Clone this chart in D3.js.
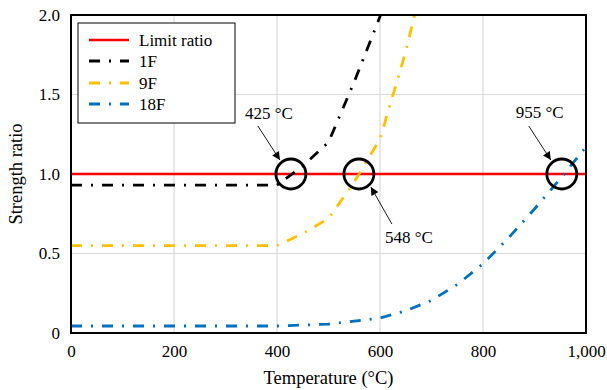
<!DOCTYPE html>
<html>
<head>
<meta charset="utf-8">
<script src="https://cdn.jsdelivr.net/npm/d3@7"></script>
<style>
  html, body { margin: 0; padding: 0; background: #fff; }
  svg { display: block; }
  svg text { font-family: 'Liberation Serif', 'Times New Roman', 'DejaVu Serif', serif; }
</style>
</head>
<body>
<svg id="chart" width="607" height="390"></svg>
<script>
// ---- data ----
const temps1F  = [0, 100, 200, 300, 400, 450, 500, 550, 600, 650];
const ratio1F  = [0.93, 0.93, 0.93, 0.93, 0.93, 1.05, 1.20, 1.58, 1.99, 2.6];
const temps9F  = [0, 100, 200, 300, 400, 450, 500, 550, 600, 650, 700];
const ratio9F  = [0.55, 0.55, 0.55, 0.55, 0.55, 0.625, 0.72, 0.95, 1.22, 1.77, 2.44];
const temps18F = [0, 100, 200, 300, 400, 500, 600, 650, 700, 750, 800, 850, 900, 950, 1000];
const ratio18F = [0.044, 0.044, 0.044, 0.044, 0.044, 0.056, 0.094, 0.14, 0.205, 0.305, 0.435, 0.60, 0.78, 0.97, 1.17];
const limitTemps = [0, 1000];
const limitRatio = [1.0, 1.0];
const xTicks = [0, 200, 400, 600, 800, 1000];
const xTickLabels = ["0", "200", "400", "600", "800", "1,000"];
const yTicks = [0, 0.5, 1.0, 1.5, 2.0];
const yTickLabels = ["0", "0.5", "1.0", "1.5", "2.0"];
const seriesNames = ["Limit ratio", "1F", "9F", "18F"];
const seriesColors = ["#FF0000", "#000000", "#FFC000", "#0070C0"];
const markTemps = [427, 559, 953];
const markLabels = ["425 °C", "548 °C", "955 °C"];

// ---- layout ----
const svg = d3.select("#chart");
const L = 71, R = 586, T = 15, B = 333;
const x = d3.scaleLinear().domain([0, 1000]).range([L, R]);
const y = d3.scaleLinear().domain([0, 2]).range([B, T]);
const FONT = 17;
const TITLE_FONT = 18.5;
const FAM = "'Liberation Serif', 'Times New Roman', 'DejaVu Serif', serif";

// gridlines
const grid = svg.append("g");
grid.selectAll("line.v").data(xTicks.slice(1, -1)).join("line")
  .attr("x1", d => x(d)).attr("x2", d => x(d)).attr("y1", T).attr("y2", B)
  .attr("stroke", "#D9D9D9").attr("stroke-width", 1.2);
grid.selectAll("line.h").data(yTicks.slice(1, -1)).join("line")
  .attr("y1", d => y(d)).attr("y2", d => y(d)).attr("x1", L).attr("x2", R)
  .attr("stroke", "#D9D9D9").attr("stroke-width", 1.2);

// axes
const xAxis = svg.append("g").attr("transform", `translate(0,${B})`)
  .call(d3.axisBottom(x).tickValues(xTicks).tickSize(0).tickPadding(12)
    .tickFormat((d, i) => xTickLabels[i]));
const yAxis = svg.append("g").attr("transform", `translate(${L},0)`)
  .call(d3.axisLeft(y).tickValues(yTicks).tickSize(0).tickPadding(11)
    .tickFormat((d, i) => yTickLabels[i]));
[xAxis, yAxis].forEach(a => {
  a.select(".domain").remove();
  a.attr("font-family", null);
  a.selectAll("text").style("font-family", FAM)
    .attr("font-size", FONT).attr("fill", "#000");
});

// clip
svg.append("clipPath").attr("id", "clip").append("rect")
  .attr("x", L).attr("y", T).attr("width", R - L).attr("height", B - T);

const line = d3.line().x(d => x(d[0])).y(d => y(d[1]));
const plot = svg.append("g").attr("clip-path", "url(#clip)");
const DASH = "11,9,2,9";

plot.append("path").datum(d3.zip(limitTemps, limitRatio))
  .attr("d", line).attr("fill", "none").attr("stroke", seriesColors[0]).attr("stroke-width", 2.5);
[[temps1F, ratio1F, 1], [temps9F, ratio9F, 2], [temps18F, ratio18F, 3]].forEach(([t, r, i]) => {
  plot.append("path").datum(d3.zip(t, r))
    .attr("d", line).attr("fill", "none").attr("stroke", seriesColors[i])
    .attr("stroke-width", 2.8).attr("stroke-dasharray", DASH);
});

// frame
svg.append("rect").attr("x", L).attr("y", T).attr("width", R - L).attr("height", B - T)
  .attr("fill", "none").attr("stroke", "#000").attr("stroke-width", 2);

// axis titles
svg.append("text").attr("x", (L + R) / 2).attr("y", 384).attr("text-anchor", "middle")
  .style("font-family", FAM).attr("font-size", TITLE_FONT).text("Temperature (°C)");
svg.append("text").attr("transform", `translate(22,${(T + B) / 2}) rotate(-90)`)
  .style("font-family", FAM).attr("text-anchor", "middle").attr("font-size", TITLE_FONT).text("Strength ratio");

// annotations
const defs = svg.append("defs");
defs.append("marker").attr("id", "arrow").attr("viewBox", "0 0 10 10")
  .attr("refX", 10).attr("refY", 5).attr("markerWidth", 9).attr("markerHeight", 8)
  .attr("markerUnits", "userSpaceOnUse").attr("orient", "auto")
  .append("path").attr("d", "M0,0 L10,5 L0,10 z").attr("fill", "#000");

const ann = svg.append("g");
// offsets relative to circle centre: [textX, textY, lineStartX, lineStartY, tipX, tipY]
const offs = [
  [-46, -55, -33, -48, -11, -14],
  [26, 69, 33, 50, 12, 13],
  [-46, -56, -33, -48, -11, -14]
];
markTemps.forEach((t, i) => {
  const cx = x(t), cy = y(limitRatio[0]);
  const o = offs[i];
  ann.append("circle").attr("cx", cx).attr("cy", cy).attr("r", 15)
    .attr("fill", "none").attr("stroke", "#000").attr("stroke-width", 2.8);
  ann.append("line").attr("x1", cx + o[2]).attr("y1", cy + o[3])
    .attr("x2", cx + o[4]).attr("y2", cy + o[5])
    .attr("stroke", "#000").attr("stroke-width", 0.9).attr("marker-end", "url(#arrow)");
  ann.append("text").attr("x", cx + o[0]).attr("y", cy + o[1])
    .style("font-family", FAM).attr("font-size", FONT).text(markLabels[i]);
});

// legend
const lg = svg.append("g");
lg.append("rect").attr("x", 78).attr("y", 23).attr("width", 157).attr("height", 100)
  .attr("fill", "#fff").attr("stroke", "#000").attr("stroke-width", 1);
const rowsY = [40, 61, 83, 104];
seriesNames.forEach((n, i) => {
  lg.append("line").attr("x1", 89).attr("x2", 129).attr("y1", rowsY[i]).attr("y2", rowsY[i])
    .attr("stroke", seriesColors[i]).attr("stroke-width", i === 0 ? 2.5 : 2.8)
    .attr("stroke-dasharray", i === 0 ? null : DASH);
  lg.append("text").attr("x", 139).attr("y", rowsY[i]).attr("dy", "0.35em")
    .style("font-family", FAM).attr("font-size", FONT).text(n);
});
</script>
</body>
</html>
